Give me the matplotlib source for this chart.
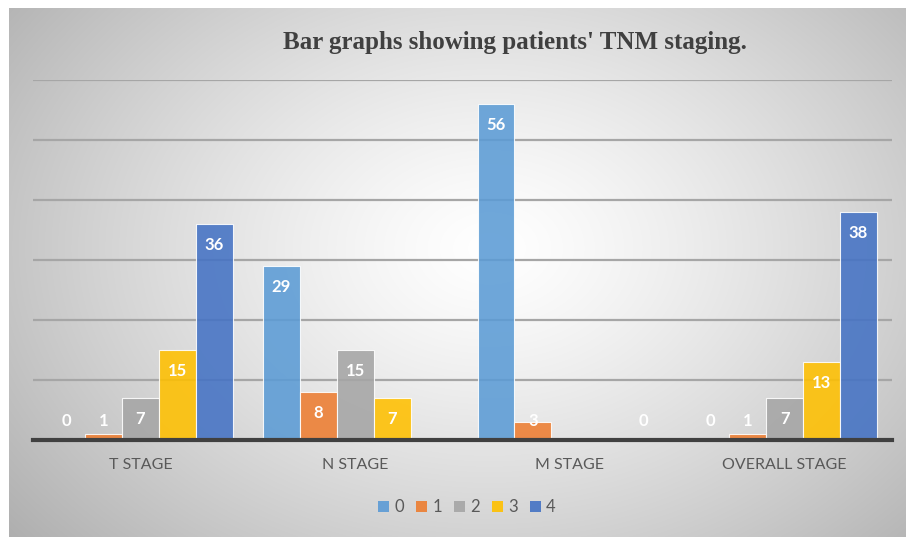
import numpy as np
import matplotlib
matplotlib.use("Agg")
import matplotlib.pyplot as plt
from matplotlib.patches import Patch

categories = ["T STAGE", "N STAGE", "M STAGE", "OVERALL STAGE"]
series_names = ["0", "1", "2", "3", "4"]
# values[series][category]; nan = no bar
s0 = [0, 29, 56, 0]
s1 = [1, 8, 3, 1]
s2 = [7, 15, np.nan, 7]
s3 = [15, 7, np.nan, 13]
s4 = [36, np.nan, 0, 38]
series = [s0, s1, s2, s3, s4]
colors = ["#5B9BD5", "#ED7D31", "#A5A5A5", "#FFC000", "#4472C4"]
title = "Bar graphs showing patients' TNM staging."

W, H = 906, 537
fig = plt.figure(figsize=(W / 100, H / 100), dpi=100)
fig.patch.set_facecolor("white")

# background gradient panel
bg = fig.add_axes([9 / W, 0, 897 / W, 529 / H], zorder=-5)
yy, xx = np.mgrid[0:529, 0:897]
cx, cy = 480, 240
r = np.sqrt(((xx - cx) / 520.0) ** 2 + ((yy - cy) / 380.0) ** 2)
val = 1.0 - 0.25 * np.clip(r, 0, 1.2) ** 1.3
img = np.dstack([val, val, val])
bg.imshow(img, aspect="auto", extent=[0, 1, 0, 1], interpolation="bilinear")
bg.set_axis_off()

ax = fig.add_axes([33 / W, 1 - 440 / H, (892 - 33) / W, (440 - 80) / H])
ax.set_facecolor("none")
ax.set_xlim(-0.5, 3.5)
ax.set_ylim(0, 60)

bw = 0.172
x = np.arange(len(categories))
for j, (vals, c) in enumerate(zip(series, colors)):
    pos = x + (j - 2) * bw
    v = np.array(vals, dtype=float)
    mask = ~np.isnan(v)
    ax.bar(pos[mask], v[mask], width=bw, color=c, alpha=0.88,
           edgecolor=(1, 1, 1, 0.45), linewidth=0.8, zorder=3)
    for p, val_ in zip(pos[mask], v[mask]):
        ly = max(val_ - 3.5, 3.1)
        ax.text(p, ly, f"{int(val_)}", ha="center", va="center",
                color="white", fontsize=12, fontweight="bold",
                family="Lato", zorder=5)

ax.set_yticks(np.arange(10, 61, 10))
ax.yaxis.grid(True, color="#a6a6a6", linewidth=1.6, zorder=1)
ax.set_axisbelow(True)
ax.tick_params(axis="y", left=False, labelleft=False)
ax.set_xticks(x)
ax.set_xticklabels(categories, fontsize=11.5, color="#595959", family="Lato")
ax.tick_params(axis="x", length=0, pad=13)
for s in ["top", "right", "left"]:
    ax.spines[s].set_visible(False)
ax.spines["bottom"].set_color("#404040")
ax.spines["bottom"].set_linewidth(3)
ax.spines["bottom"].set_zorder(6)

fig.text(515 / W, 1 - 43 / H, title, ha="center", va="center",
         fontsize=18, fontweight="bold", family="Liberation Serif",
         color="#404040")

handles = [Patch(facecolor=c, alpha=0.9, edgecolor="none") for c in colors]
fig.legend(handles, series_names, loc="center", ncol=5,
           bbox_to_anchor=(467 / W, 1 - 507 / H), frameon=False,
           handlelength=0.65, handleheight=0.65, handletextpad=0.3,
           columnspacing=0.75, prop={"family": "Lato", "size": 12},
           labelcolor="#595959")

fig.savefig("out.png", dpi=100)
